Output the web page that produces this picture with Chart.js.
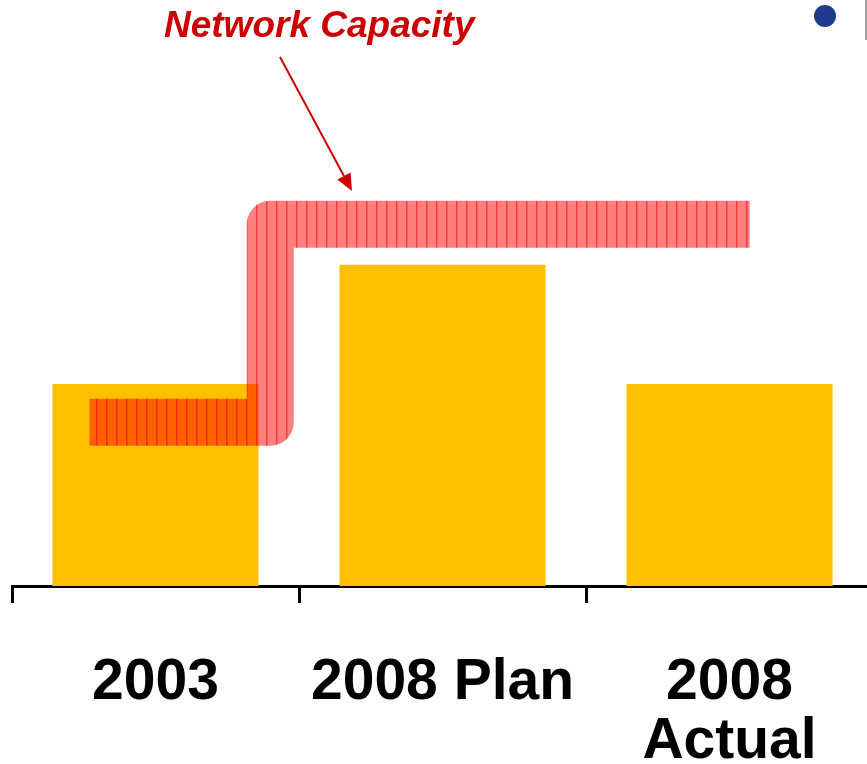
<!DOCTYPE html>
<html>
<head>
<meta charset="utf-8">
<script src="https://cdn.jsdelivr.net/npm/chart.js@4"></script>
<style>
  html, body { margin: 0; padding: 0; background: #fff; overflow: hidden; }
  #wrap { width: 873px; height: 764px; position: relative; }
</style>
</head>
<body>
<div id="wrap"><canvas id="c"></canvas></div>
<script>
// ---- data ----
const categories = ["2003", "2008 Plan", ["2008", "Actual"]];
const demandValues = [100, 159, 100];
// Network capacity step line: x in category units (0 = first category centre)
const capacityX = [-0.23, 0.40, 0.40, 2.07];
const capacityY = [81, 81, 179, 179];
const yMax = 290;
const annotationText = "Network Capacity";

// hatch pattern for the capacity band
function hatch() {
  const p = document.createElement('canvas');
  p.width = 10; p.height = 4;
  const g = p.getContext('2d');
  g.fillStyle = 'rgba(255,0,0,0.5)';
  g.fillRect(0, 0, 10, 4);
  g.fillStyle = 'rgba(225,0,0,0.5)';
  g.fillRect(6, 0, 1.5, 4);
  return document.getElementById('c').getContext('2d').createPattern(p, 'repeat');
}

const decorations = {
  id: 'decorations',
  afterDraw(chart) {
    const ctx = chart.ctx;
    ctx.save();
    // annotation text
    ctx.fillStyle = '#CC0000';
    ctx.font = 'italic bold 37px "Liberation Sans", Arial, sans-serif';
    ctx.textAlign = 'left';
    ctx.textBaseline = 'alphabetic';
    ctx.fillText(annotationText, 164, 37);
    // arrow
    const x1 = 280, y1 = 57, x2 = 352, y2 = 191;
    const ang = Math.atan2(y2 - y1, x2 - x1);
    const hl = 17, hw = 7.5;
    const bx = x2 - hl * Math.cos(ang), by = y2 - hl * Math.sin(ang);
    ctx.strokeStyle = '#CC0000';
    ctx.lineWidth = 2;
    ctx.beginPath(); ctx.moveTo(x1, y1); ctx.lineTo(bx, by); ctx.stroke();
    ctx.beginPath();
    ctx.moveTo(x2, y2);
    ctx.lineTo(bx + hw * Math.sin(ang), by - hw * Math.cos(ang));
    ctx.lineTo(bx - hw * Math.sin(ang), by + hw * Math.cos(ang));
    ctx.closePath(); ctx.fillStyle = '#CC0000'; ctx.fill();
    // blue bullet
    ctx.fillStyle = '#1F3A8A';
    ctx.beginPath(); ctx.arc(825, 16, 11, 0, Math.PI * 2); ctx.fill();
    // thin grey line at right edge
    ctx.strokeStyle = '#808080';
    ctx.lineWidth = 1.5;
    ctx.beginPath(); ctx.moveTo(866, 0); ctx.lineTo(866, 40); ctx.stroke();
    ctx.restore();
  }
};

new Chart(document.getElementById('c'), {
  type: 'bar',
  data: {
    labels: categories,
    datasets: [
      {
        type: 'line',
        label: 'Network Capacity',
        xAxisID: 'x2',
        data: capacityX.map((x, i) => ({ x: x, y: capacityY[i] })),
        borderColor: hatch(),
        borderWidth: 47,
        borderJoinStyle: 'round',
        borderCapStyle: 'butt',
        tension: 0,
        pointRadius: 0,
        fill: false,
        order: 0
      },
      {
        type: 'bar',
        label: 'Demand',
        xAxisID: 'x',
        data: demandValues,
        backgroundColor: '#FFC000',
        barPercentage: 0.718,
        categoryPercentage: 1.0,
        grouped: false,
        order: 1
      }
    ]
  },
  options: {
    responsive: true,
    maintainAspectRatio: false,
    animation: false,
    layout: { padding: { left: 12, right: 0, top: 0, bottom: 0 } },
    plugins: { legend: { display: false }, tooltip: { enabled: false }, title: { display: false } },
    scales: {
      x: {
        type: 'category',
        offset: true,
        border: { display: true, color: '#000', width: 3 },
        grid: { display: true, drawOnChartArea: false, drawTicks: true, tickLength: 17, color: '#000', lineWidth: 3, offset: true },
        ticks: {
          color: '#000',
          padding: 50,
          maxRotation: 0,
          autoSkip: false,
          font: { family: '"Liberation Sans", Arial, sans-serif', size: 57, weight: 'bold', lineHeight: 1.05 }
        },
        afterFit(s) { s.height = 178; }
      },
      x2: {
        type: 'linear',
        display: false,
        offset: false,
        grid: { offset: false },
        min: -0.5,
        max: 2.5
      },
      y: {
        display: false,
        min: 0,
        max: yMax
      }
    }
  },
  plugins: [decorations]
});
</script>
</body>
</html>
